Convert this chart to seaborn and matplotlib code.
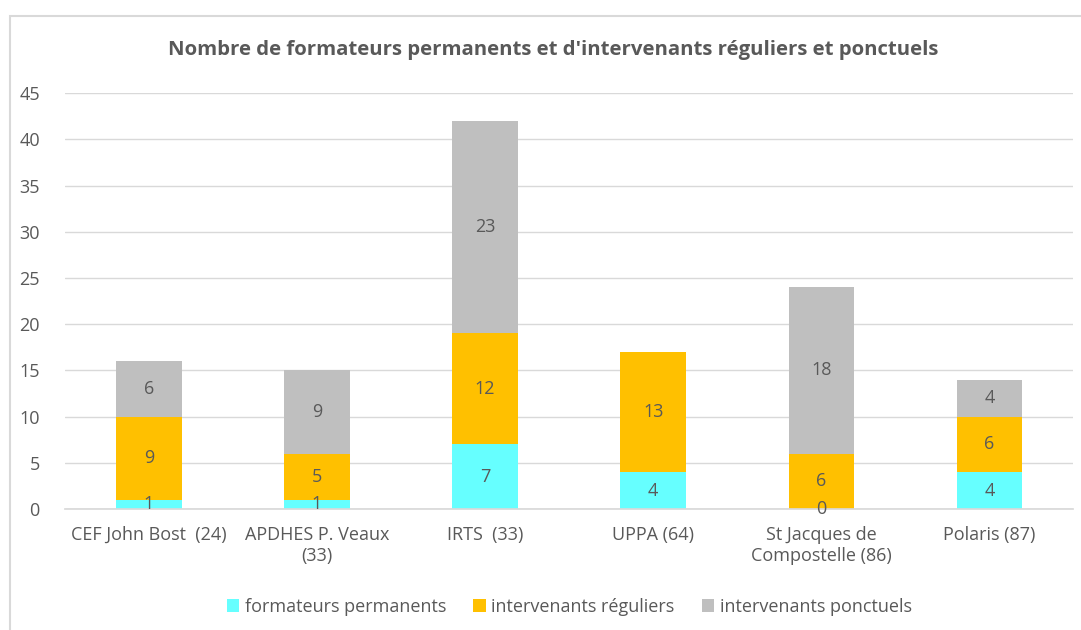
import numpy as np
import pandas as pd
import seaborn as sns
from matplotlib import pyplot as plt
from matplotlib.patches import Rectangle

etablissements = ['CEF John Bost  (24)', 'APDHES P. Veaux\n(33)', 'IRTS  (33)',
                  'UPPA (64)', 'St Jacques de\nCompostelle (86)', 'Polaris (87)']
permanents = [1, 1, 7, 4, 0, 4]
reguliers = [9, 5, 12, 13, 6, 6]
ponctuels = [6, 9, 23, np.nan, 18, 4]

series_names = ['formateurs permanents', 'intervenants réguliers', 'intervenants ponctuels']
colors = ['#66FFFF', '#FFC000', '#BFBFBF']
text_grey = '#595959'


def plot_stack():
    sns.set_theme(style='white')
    plt.rcParams['font.family'] = ['Liberation Sans Narrow', 'Open Sans', 'DejaVu Sans']

    df = pd.DataFrame({'Etablissement': etablissements,
                       series_names[0]: permanents,
                       series_names[1]: reguliers,
                       series_names[2]: ponctuels})

    fig = plt.figure(figsize=(10.81, 6.30), dpi=100)
    ax = fig.add_axes([0.060, 0.192, 0.933, 0.660])

    bottom = np.zeros(len(df))
    for name, col in zip(series_names, colors):
        vals = df[name].fillna(0).to_numpy()
        sns.barplot(data=df, x='Etablissement', y=df[name].fillna(0), bottom=bottom,
                    color=col, width=0.39, ax=ax, label=name, saturation=1,
                    edgecolor='none', linewidth=0)
        cont = ax.containers[-1]
        labels = ['' if pd.isna(v) else f'{int(v)}' for v in df[name]]
        ax.bar_label(cont, labels=labels, label_type='center', fontsize=13, color=text_grey)
        bottom = bottom + vals

    ax.set_ylim(0, 45)
    ax.set_yticks(range(0, 46, 5))
    ax.set_xlim(-0.5, len(df) - 0.5)
    ax.yaxis.grid(True, color='#D9D9D9', linewidth=1)
    ax.set_axisbelow(True)
    for s in ['top', 'right', 'left']:
        ax.spines[s].set_visible(False)
    ax.spines['bottom'].set_color('#D9D9D9')
    ax.set_xlabel('')
    ax.set_ylabel('')
    ax.tick_params(axis='both', colors=text_grey, labelsize=13, length=0, pad=12)
    ax.tick_params(axis='y', pad=18)

    fig.suptitle("Nombre de formateurs permanents et d'intervenants réguliers et ponctuels",
                 x=0.512, y=0.937, fontsize=14.7, fontweight='bold', color=text_grey)

    ax.legend(loc='center', bbox_to_anchor=(0.5, -0.235), ncol=3, frameon=False,
              fontsize=13, labelcolor=text_grey, handlelength=0.7, handleheight=0.7,
              handletextpad=0.3, columnspacing=1.5)

    fig.patches.append(Rectangle((10 / 1081, -0.1), 1.2, 1 - 16 / 630 + 0.1,
                                 transform=fig.transFigure, fill=False,
                                 edgecolor='#D9D9D9', linewidth=1.5))

    plt.savefig('out.png', dpi=100)


if __name__ == '__main__':
    plot_stack()
